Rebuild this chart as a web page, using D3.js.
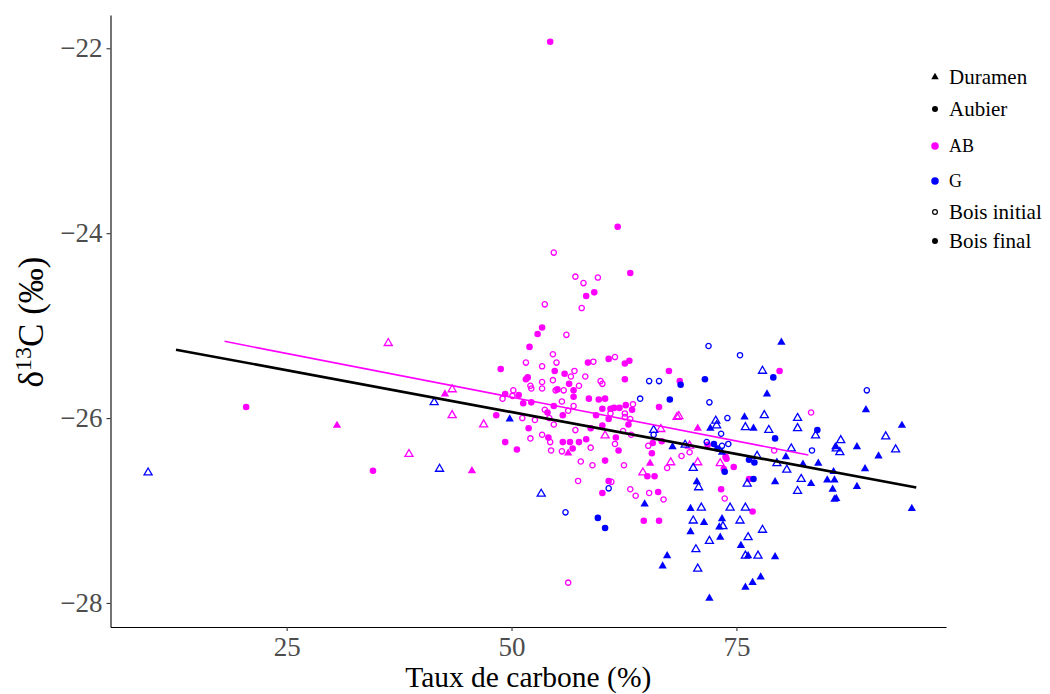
<!DOCTYPE html>
<html><head><meta charset="utf-8">
<script src="https://cdn.jsdelivr.net/npm/d3@7"></script>
<style>body{margin:0;background:#fff}svg{display:block}</style>
</head><body><svg id="c" width="1050" height="694"></svg>
<script>
// ---- data: [Taux de carbone (%), δ13C (‰)] ----
const AB_Duramen_initial = [[36.3,-25.19],[43.4,-25.69],[43.4,-25.97],[46.9,-26.07],[38.6,-26.39],[66.6,-26.12],[60.4,-26.19],[67.7,-26.48],[64.6,-26.59],[68.4,-25.99],[68.6,-25.98],[69.8,-26.30],[70.7,-26.48],[73.2,-26.49]];
const AB_Duramen_final = [[42.6,-25.74],[30.6,-26.08],[45.6,-26.57],[56.3,-26.38],[65.4,-26.49],[70.7,-26.11]];
const AB_Aubier_initial = [[54.7,-24.21],[57.1,-24.47],[58.0,-24.54],[59.6,-24.48],[53.7,-24.77],[57.8,-24.81],[56.1,-25.10],[54.6,-25.31],[61.5,-25.34],[51.6,-25.40],[55.0,-25.40],[59.1,-25.39],[53.4,-25.44],[57.0,-25.49],[56.6,-25.55],[58.2,-25.55],[53.4,-25.61],[54.6,-25.59],[59.9,-25.60],[60.1,-25.63],[52.1,-25.65],[53.4,-25.68],[55.8,-25.70],[57.5,-25.65],[52.2,-25.68],[54.9,-25.70],[50.2,-25.70],[50.1,-25.76],[49.0,-25.79],[55.6,-25.82],[56.9,-25.87],[63.5,-25.85],[61.0,-25.95],[53.7,-25.91],[56.3,-25.92],[51.2,-26.00],[54.2,-26.00],[62.6,-25.95],[62.6,-25.99],[63.2,-26.01],[52.6,-26.02],[54.7,-26.07],[57.1,-26.13],[53.4,-26.18],[62.4,-26.14],[63.3,-26.18],[52.1,-26.22],[61.5,-26.28],[54.3,-26.26],[54.4,-26.35],[55.6,-26.36],[58.8,-26.32],[57.7,-26.47],[59.0,-26.51],[62.5,-26.51],[67.3,-26.54],[57.4,-26.68],[61.1,-26.69],[63.2,-26.77],[63.8,-26.84],[65.3,-26.81],[66.9,-26.88],[83.3,-25.94],[65.2,-26.30],[68.9,-26.41],[69.8,-26.37],[79.2,-26.35],[73.7,-26.87],[56.3,-27.78]];
const AB_Aubier_final = [[54.3,-21.93],[61.8,-23.93],[63.2,-24.43],[59.2,-24.64],[58.3,-24.68],[53.4,-25.02],[52.9,-25.09],[52.0,-25.23],[60.8,-25.36],[58.5,-25.40],[62.6,-25.41],[63.1,-25.38],[48.8,-25.47],[54.8,-25.49],[67.5,-25.49],[55.9,-25.52],[51.8,-25.56],[51.6,-25.58],[62.6,-25.58],[56.4,-25.63],[55.1,-25.69],[56.9,-25.70],[49.3,-25.74],[50.8,-25.75],[56.9,-25.77],[58.6,-25.79],[59.7,-25.80],[60.4,-25.79],[51.3,-25.84],[52.2,-25.83],[54.7,-25.87],[60.1,-25.90],[61.0,-25.90],[61.4,-25.89],[62.0,-25.89],[62.7,-25.86],[66.4,-25.88],[54.0,-25.94],[48.3,-25.97],[55.7,-25.97],[59.4,-25.97],[63.4,-25.91],[60.8,-26.01],[58.8,-26.11],[60.1,-26.08],[63.0,-26.07],[51.9,-26.11],[54.1,-26.21],[61.6,-26.21],[49.3,-26.26],[55.7,-26.26],[56.5,-26.26],[57.5,-26.26],[58.3,-26.23],[65.7,-26.27],[50.6,-26.34],[56.8,-26.33],[61.9,-26.35],[65.6,-26.38],[60.4,-26.46],[65.1,-26.63],[65.9,-26.63],[60.8,-26.68],[60.1,-26.81],[66.3,-26.80],[20.5,-25.88],[34.6,-26.57],[79.8,-25.49],[68.7,-25.60],[66.7,-26.25],[71.8,-26.29],[73.9,-26.44],[73.8,-26.42],[74.7,-26.53],[73.6,-26.55],[76.4,-26.66],[73.3,-26.77],[64.7,-27.11],[66.4,-27.11],[76.8,-27.01]];
const G_Duramen_initial = [[41.4,-25.83],[42.0,-26.55],[9.6,-26.59],[65.8,-26.13],[53.3,-26.82],[77.9,-25.49],[78.1,-25.97],[81.8,-26.00],[72.7,-26.03],[72.8,-26.08],[76.0,-26.10],[78.6,-26.13],[81.8,-26.11],[83.8,-26.19],[91.6,-26.20],[86.6,-26.24],[86.1,-26.33],[86.5,-26.37],[92.7,-26.34],[81.1,-26.33],[69.3,-26.29],[77.3,-26.41],[79.5,-26.49],[80.6,-26.56],[70.2,-26.54],[76.2,-26.71],[82.2,-26.66],[81.8,-26.79],[70.8,-26.75],[71.1,-26.97],[74.3,-26.97],[76.0,-26.97],[70.2,-27.11],[75.4,-27.11],[73.5,-27.17],[77.9,-27.21],[76.3,-27.29],[72.0,-27.33],[70.5,-27.42],[76.0,-27.49],[77.4,-27.49],[70.7,-27.63]];
const G_Duramen_final = [[49.8,-26.01],[67.9,-26.31],[80.0,-25.18],[78.4,-25.74],[89.4,-25.91],[75.9,-25.99],[72.1,-26.11],[76.9,-26.11],[93.4,-26.08],[86.0,-26.31],[88.4,-26.31],[90.8,-26.41],[80.5,-26.42],[73.4,-26.37],[82.4,-26.50],[84.1,-26.49],[85.8,-26.58],[89.3,-26.55],[79.3,-26.69],[83.3,-26.71],[85.1,-26.67],[85.9,-26.67],[85.7,-26.77],[88.4,-26.74],[85.9,-26.88],[86.1,-26.87],[70.6,-26.69],[64.8,-26.93],[69.9,-26.98],[71.4,-27.13],[73.4,-27.09],[73.1,-27.18],[69.9,-27.23],[73.2,-27.29],[75.5,-27.38],[76.3,-27.49],[79.3,-27.50],[67.3,-27.49],[66.8,-27.60],[77.7,-27.72],[76.8,-27.78],[76.0,-27.83],[72.0,-27.95],[94.5,-26.98]];
const G_Aubier_initial = [[65.3,-25.60],[66.4,-25.60],[64.3,-25.79],[65.8,-26.18],[60.8,-26.76],[71.9,-25.22],[75.4,-25.32],[72.0,-25.83],[89.5,-25.70],[74.0,-26.00],[83.4,-26.35],[71.7,-26.26],[73.4,-26.30],[74.1,-26.28],[73.3,-26.17],[56.0,-27.02]];
const G_Aubier_final = [[68.8,-25.64],[67.6,-25.80],[79.1,-25.56],[71.5,-25.58],[84.0,-26.13],[79.3,-26.22],[72.5,-26.28],[72.9,-26.33],[76.4,-26.45],[77.0,-26.48],[73.7,-26.58],[76.9,-26.66],[59.6,-27.08],[60.4,-27.19]];
// regression lines (end points)
const fitAll = [[12.7,-25.26],[95.0,-26.75]];
const fitAB = [[18.1,-25.17],[83.0,-26.40]];
// axis ticks
const xTicks = [25, 50, 75];
const yTicks = [-28, -26, -24, -22];
const siteColors = {AB: "#FF00FF", G: "#0000FF"};

const series = [
  {site:"AB", tissue:"Duramen", wood:"initial", data:AB_Duramen_initial},
  {site:"AB", tissue:"Duramen", wood:"final", data:AB_Duramen_final},
  {site:"AB", tissue:"Aubier", wood:"initial", data:AB_Aubier_initial},
  {site:"AB", tissue:"Aubier", wood:"final", data:AB_Aubier_final},
  {site:"G", tissue:"Duramen", wood:"initial", data:G_Duramen_initial},
  {site:"G", tissue:"Duramen", wood:"final", data:G_Duramen_final},
  {site:"G", tissue:"Aubier", wood:"initial", data:G_Aubier_initial},
  {site:"G", tissue:"Aubier", wood:"final", data:G_Aubier_final}
];

const svg = d3.select("#c");
const L = 110.5, R = 946, T = 15, B = 627;
const x = d3.scaleLinear().domain([5.42, 98.3]).range([L, R]);
const y = d3.scaleLinear().domain([-28.26, -21.64]).range([B, T]);
const serif = "'Liberation Serif', 'Times New Roman', serif";

function symPath(tissue, wood) {
  if (tissue === "Duramen") return d3.symbol(d3.symbolTriangle, wood === "final" ? 30 : 28)();
  return d3.symbol(d3.symbolCircle, wood === "final" ? 34 : 22)();
}

// points
const gp = svg.append("g");
series.forEach(s => {
  const col = siteColors[s.site];
  gp.selectAll(null).data(s.data).enter().append("path")
    .attr("d", symPath(s.tissue, s.wood))
    .attr("transform", d => `translate(${x(d[0])},${y(d[1])})`)
    .attr("fill", s.wood === "final" ? col : "none")
    .attr("stroke", s.wood === "final" ? "none" : col)
    .attr("stroke-width", 1.3);
});

// fit lines
const line = d3.line().x(d => x(d[0])).y(d => y(d[1]));
svg.append("path").datum(fitAB).attr("d", line).attr("stroke", "#FF00FF").attr("stroke-width", 1.6).attr("fill", "none");
svg.append("path").datum(fitAll).attr("d", line).attr("stroke", "#000").attr("stroke-width", 2.6).attr("fill", "none");

// axes
const xAxis = svg.append("g").attr("transform", `translate(0,${B})`)
  .call(d3.axisBottom(x).tickValues(xTicks).tickFormat(d3.format("d")).tickSizeInner(4).tickSizeOuter(0).tickPadding(6));
const yAxis = svg.append("g").attr("transform", `translate(${L},0)`)
  .call(d3.axisLeft(y).tickValues(yTicks).tickFormat(d3.format("d")).tickSizeInner(4).tickSizeOuter(0).tickPadding(4));
[xAxis, yAxis].forEach(a => {
  a.select(".domain").attr("stroke", "#000").attr("stroke-width", 1.1);
  a.selectAll(".tick line").attr("stroke", "#333").attr("stroke-width", 1.1);
  a.selectAll(".tick text").attr("font-family", serif).attr("font-size", 27).attr("fill", "#4D4D4D");
});

// axis titles
svg.append("text").attr("x", (L + R) / 2).attr("y", 687).attr("text-anchor", "middle")
  .attr("font-family", serif).attr("font-size", 29.5).attr("fill", "#000").text("Taux de carbone (%)");
const yt = svg.append("text").attr("transform", "translate(43,322) rotate(-90)").attr("text-anchor", "middle")
  .attr("font-family", serif).attr("font-size", 35).attr("fill", "#000");
yt.append("tspan").text("δ");
yt.append("tspan").attr("font-size", 24).attr("dy", -12).text("13");
yt.append("tspan").attr("dy", 12).text("C (‰)");

// legend
const legend = [
  {label:"Duramen", shape:"tri", color:"#000", fill:true, y:77, fs:21},
  {label:"Aubier", shape:"circ", color:"#000", fill:true, y:109, fs:21},
  {label:"AB", shape:"circ", color:siteColors.AB, fill:true, y:146, fs:18, big:true},
  {label:"G", shape:"circ", color:siteColors.G, fill:true, y:181, fs:18, big:true},
  {label:"Bois initial", shape:"circ", color:"#000", fill:false, y:212, fs:21},
  {label:"Bois final", shape:"circ", color:"#000", fill:true, y:241, fs:21}
];
const lg = svg.append("g");
legend.forEach(d => {
  const p = d.shape === "tri" ? d3.symbol(d3.symbolTriangle, 24)() : d3.symbol(d3.symbolCircle, d.big ? 44 : (d.fill ? 28 : 18))();
  lg.append("path").attr("d", p).attr("transform", `translate(935,${d.y})`)
    .attr("fill", d.fill ? d.color : "none").attr("stroke", d.fill ? "none" : d.color).attr("stroke-width", 1.2);
  lg.append("text").attr("x", 949).attr("y", d.y).attr("dy", "0.33em")
    .attr("font-family", serif).attr("font-size", d.fs).attr("fill", "#000").text(d.label);
});
</script></body></html>
